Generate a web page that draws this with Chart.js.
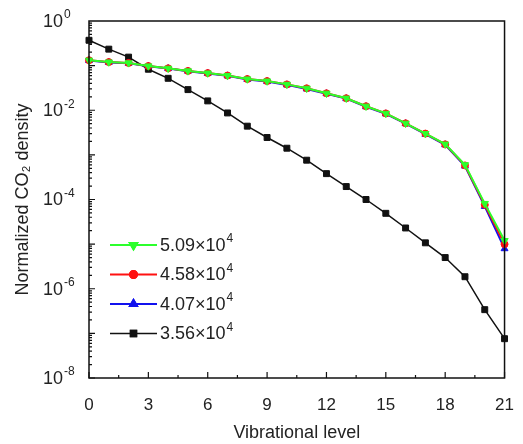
<!DOCTYPE html>
<html>
<head>
<meta charset="utf-8">
<script src="https://cdn.jsdelivr.net/npm/chart.js@4"></script>
<style>
  html, body { margin: 0; padding: 0; background: #fff; }
  #wrap { width: 523px; height: 444px; }
</style>
</head>
<body>
<div id="wrap"><canvas id="c"></canvas></div>
<script>
// niveis vibracionais (eixo x)
const levels = [0,1,2,3,4,5,6,7,8,9,10,11,12,13,14,15,16,17,18,19,20,21]
// rotulos da legenda: mantissa e expoente (x10^4)
const seriesBase = ['5.09×10', '4.58×10', '4.07×10', '3.56×10']
const seriesExp = ['4', '4', '4', '4']

// densidade normalizada de CO2
const g509 = [0.132,0.120,0.115,0.098,0.087,0.076,0.068,0.060,0.050,0.045,0.038,0.031,0.024,0.0186,0.0123,0.0085,0.0051,0.0030,0.00174,0.00060,8.1e-5,1.2e-5]
const g458 = [0.132,0.120,0.115,0.098,0.087,0.076,0.068,0.060,0.050,0.045,0.038,0.031,0.024,0.0186,0.0123,0.0085,0.0051,0.0030,0.00172,0.00058,7.6e-5,1.0e-5]
const g407 = [0.130,0.118,0.113,0.097,0.086,0.075,0.067,0.059,0.049,0.044,0.037,0.030,0.0235,0.0182,0.0120,0.0083,0.0050,0.0029,0.00168,0.00056,7.0e-5,7.9e-6]
const g356 = [0.37,0.234,0.155,0.083,0.052,0.029,0.0162,0.0087,0.0044,0.00245,0.00141,7.6e-4,3.8e-4,1.95e-4,1.0e-4,4.9e-5,2.3e-5,1.07e-5,5.0e-6,1.86e-6,3.4e-7,7.6e-8]

const xTicks = [0,3,6,9,12,15,18,21]
const yLabelExps = [0,-2,-4,-6,-8]

const FONT = '"Liberation Sans", Arial, sans-serif'
const pts = arr => arr.map((v, i) => ({ x: levels[i], y: v }))

// escreve base + expoente (superscrito) e devolve a largura
function supText(ctx, base, exp, x, y, size) {
  ctx.font = size + 'px ' + FONT
  ctx.textBaseline = 'middle'
  ctx.textAlign = 'left'
  ctx.fillText(base, x, y)
  const w = ctx.measureText(base).width
  ctx.font = Math.round(size * 0.65) + 'px ' + FONT
  ctx.fillText(exp, x + w + 1, y - size * 0.38)
  return w
}

// moldura + ticks pra dentro + rotulos do eixo y + legenda dentro da area
const frame = {
  id: 'frame',
  afterDraw(chart) {
    const { ctx, chartArea: a, scales } = chart
    const xs = scales.x, ys = scales.y
    ctx.save()
    ctx.strokeStyle = '#111'
    ctx.lineWidth = 1.5
    ctx.strokeRect(a.left, a.top, a.right - a.left, a.bottom - a.top)
    ctx.lineWidth = 1.2
    ctx.beginPath()
    for (let v = 0; v <= 21; v += 1.5) {
      const px = xs.getPixelForValue(v)
      const len = (v % 3 === 0) ? 6 : 3
      ctx.moveTo(px, a.bottom); ctx.lineTo(px, a.bottom - len)
    }
    for (let e = -8; e < 0; e++) {
      for (let m = 1; m <= 9; m++) {
        const py = ys.getPixelForValue(m * Math.pow(10, e))
        const len = m === 1 ? 6 : 3
        ctx.moveTo(a.left, py); ctx.lineTo(a.left + len, py)
      }
    }
    ctx.stroke()

    ctx.fillStyle = '#222'
    yLabelExps.forEach(e => {
      const py = ys.getPixelForValue(Math.pow(10, e))
      ctx.font = '18px ' + FONT
      const w = ctx.measureText('10').width
      supText(ctx, '10', String(e), 63 - w, py + 1, 18)
    })

    // legenda
    const x0 = a.left + 21, x1 = a.left + 68
    let y = 245
    chart.data.datasets.forEach((ds, i) => {
      ctx.strokeStyle = ds.borderColor
      ctx.lineWidth = ds.borderWidth
      ctx.beginPath(); ctx.moveTo(x0, y); ctx.lineTo(x1, y); ctx.stroke()
      Chart.helpers.drawPoint(ctx, {
        pointStyle: ds.pointStyle, radius: ds.pointRadius, rotation: ds.pointRotation || 0,
        borderWidth: 1
      }, (x0 + x1) / 2, y)
      ctx.fillStyle = ds.pointBackgroundColor
      ctx.strokeStyle = ds.pointBorderColor
      ctx.fill(); ctx.stroke()
      ctx.fillStyle = '#222'
      supText(ctx, seriesBase[i], seriesExp[i], x1 + 3, y + 1, 18)
      y += 29.5
    })
    ctx.restore()
  }
}

const mk = (label, data, color, style, rot, r, bw) => ({
  label, data: pts(data),
  borderColor: color, backgroundColor: color,
  pointBackgroundColor: color, pointBorderColor: color,
  pointStyle: style, pointRotation: rot, pointRadius: r, pointBorderWidth: 1,
  borderWidth: bw, tension: 0, clip: false
})

new Chart(document.getElementById('c'), {
  type: 'line',
  data: {
    datasets: [
      mk(seriesBase[0] + '4', g509, '#2cff2c', 'triangle', 180, 4.2, 2),
      mk(seriesBase[1] + '4', g458, '#ff1111', 'circle', 0, 3.5, 2),
      mk(seriesBase[2] + '4', g407, '#1111ee', 'triangle', 0, 4, 2),
      mk(seriesBase[3] + '4', g356, '#111111', 'rect', 0, 4.2, 1.5)
    ]
  },
  options: {
    responsive: true,
    maintainAspectRatio: false,
    animation: false,
    layout: { padding: { top: 21, right: 12, left: 0, bottom: 0 } },
    plugins: { legend: { display: false }, tooltip: { enabled: false } },
    scales: {
      x: {
        type: 'linear', min: 0, max: 21,
        afterBuildTicks: s => { s.ticks = xTicks.map(v => ({ value: v })) },
        afterFit: s => { s.height = 66 },
        grid: { display: false }, border: { display: false },
        ticks: { color: '#222', padding: 9, font: { size: 17, family: FONT } },
        title: { display: true, text: 'Vibrational level', color: '#222', padding: { top: 13, bottom: 0 },
          font: { size: 18, family: FONT } }
      },
      y: {
        type: 'logarithmic', min: 1e-8, max: 1,
        afterBuildTicks: s => { s.ticks = yLabelExps.map(e => ({ value: Math.pow(10, e) })) },
        afterFit: s => { s.width = 89 },
        grid: { display: false }, border: { display: false },
        ticks: { display: false },
        title: { display: true, text: 'Normalized CO₂ density', color: '#222', padding: { top: 12, bottom: 0 },
          font: { size: 18, family: FONT } }
      }
    }
  },
  plugins: [frame]
})
</script>
</body>
</html>
